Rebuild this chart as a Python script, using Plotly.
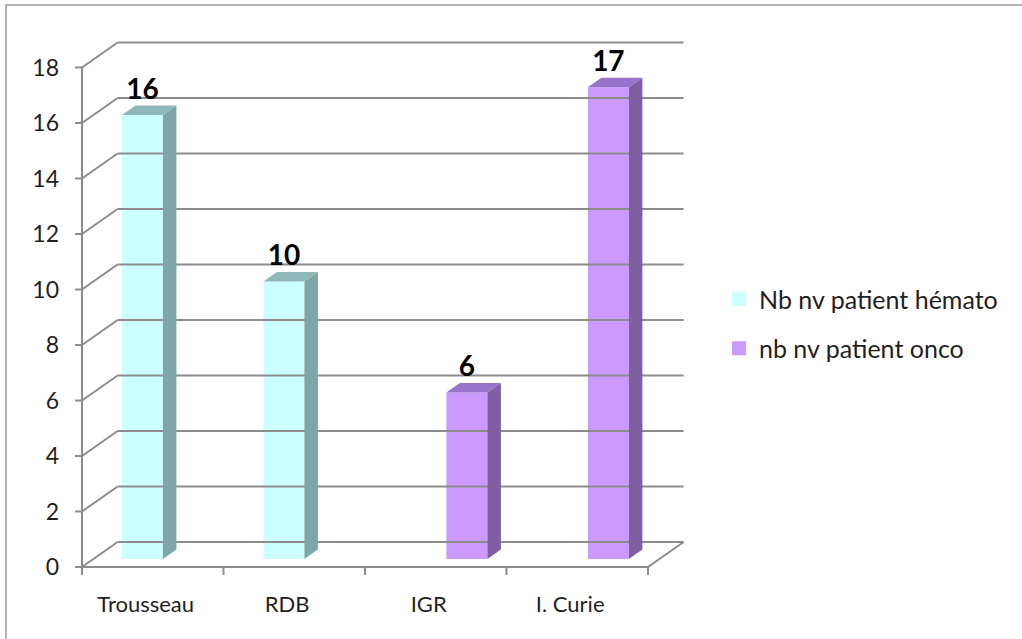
import plotly.graph_objects as go

# ---------------- data ----------------
categories = ["Trousseau", "RDB", "IGR", "I. Curie"]
hemato = [16, 10, None, None]
onco = [None, None, 6, 17]
series_names = ["Nb nv patient hémato", "nb nv patient onco"]
y_ticks = [0, 2, 4, 6, 8, 10, 12, 14, 16, 18]

# ---------------- geometry (pixels -> data units) ----------------
W, H = 1022, 639
FRONT_L, FRONT_R, FRONT_B, FRONT_T18 = 82, 648, 567, 67.5
PLOT_R, PLOT_T = 700, 30
PAD = 12
n = len(categories)
ux = (FRONT_R - FRONT_L) / n
uy = (FRONT_B - FRONT_T18) / 18.0
X0, Y0 = -PAD / ux, -PAD / uy
XMAX = (PLOT_R - FRONT_L) / ux
YMAX = (FRONT_B - PLOT_T) / uy
ML, MB = FRONT_L - PAD, H - (FRONT_B + PAD)
PW, PH = PLOT_R - ML, (FRONT_B + PAD) - PLOT_T

WALL_DX, WALL_DY = 35.6 / ux, 25.0 / uy
BAR_W = 41.0 / ux
BAR_BASE = 8.0 / uy
DEPTH_DX, DEPTH_DY = 13.5 / ux, 9.5 / uy
OFFSETS = [0.427, 0.72]
TICK_X, TICK_Y = 7.0 / ux, 8.0 / uy

FRONT_COL = ["#CCFFFF", "#CC99FF"]
SIDE_COL = ["#7FA6A6", "#7F5FA1"]
TOP_COL = ["#8FB8B8", "#9873C9"]
GRID = "#8C8C8C"
TXT = "#1F1F1F"
FONT = "Lato"

def px_x(p):
    return (p - ML) / PW

def px_y(p):
    return (FRONT_B + PAD - p) / PH

fig = go.Figure()

# frame: back wall gridlines, left wall diagonals, floor, front axis, ticks
fx, fy = [], []
def seg(a, b):
    fx.extend([a[0], b[0], None]); fy.extend([a[1], b[1], None])
for v in y_ticks:
    seg((WALL_DX, v + WALL_DY), (n + WALL_DX, v + WALL_DY))
    seg((0, v), (WALL_DX, v + WALL_DY))
    seg((-TICK_X, v), (0, v))
seg((0, 0), (0, y_ticks[-1]))
seg((0, 0), (n, 0))
seg((n, 0), (n + WALL_DX, WALL_DY))
for i in range(n + 1):
    seg((i, 0), (i, -TICK_Y))
fig.add_trace(go.Scatter(x=fx, y=fy, mode="lines", line=dict(color=GRID, width=2),
                         hoverinfo="skip", showlegend=False))

series = [hemato, onco]
for s, vals in enumerate(series):
    xs = [i + OFFSETS[s] for i in range(n)]
    fig.add_trace(go.Bar(x=xs, y=vals, base=BAR_BASE, width=BAR_W, name=series_names[s],
                         marker=dict(color=FRONT_COL[s], line=dict(width=0)),
                         legendgroup=str(s), showlegend=False))
    sx, sy, tx, ty, lx, ly, lt = [], [], [], [], [], [], []
    for xc, v in zip(xs, vals):
        if v is None:
            continue
        xl, xr = xc - BAR_W / 2, xc + BAR_W / 2
        b0, b1 = BAR_BASE, BAR_BASE + v
        sx += [xr, xr + DEPTH_DX, xr + DEPTH_DX, xr, xr, None]
        sy += [b0, b0 + DEPTH_DY, b1 + DEPTH_DY, b1, b0, None]
        tx += [xl, xl + DEPTH_DX, xr + DEPTH_DX, xr, xl, None]
        ty += [b1, b1 + DEPTH_DY, b1 + DEPTH_DY, b1, b1, None]
        lx.append(xc); ly.append(b1 + DEPTH_DY); lt.append(str(v))
    fig.add_trace(go.Scatter(x=sx, y=sy, mode="lines", fill="toself", fillcolor=SIDE_COL[s],
                             line=dict(width=0, color=SIDE_COL[s]), hoverinfo="skip", showlegend=False))
    fig.add_trace(go.Scatter(x=tx, y=ty, mode="lines", fill="toself", fillcolor=TOP_COL[s],
                             line=dict(width=0, color=TOP_COL[s]), hoverinfo="skip", showlegend=False))
    fig.add_trace(go.Scatter(x=lx, y=ly, mode="text", text=lt, textposition="top center",
                             textfont=dict(family=FONT, size=28, color="#000000", weight="bold"),
                             hoverinfo="skip", showlegend=False, cliponaxis=False))
    # legend entry (square swatch like the original)
    fig.add_trace(go.Scatter(x=[None], y=[None], mode="markers", name=series_names[s],
                             marker=dict(symbol="square", size=14, color=FRONT_COL[s]),
                             legendgroup=str(s), showlegend=True))

fig.update_layout(
    width=W, height=H,
    margin=dict(l=ML, r=W - PLOT_R, t=PLOT_T, b=MB, autoexpand=False),
    paper_bgcolor="white", plot_bgcolor="white",
    font=dict(family=FONT, color=TXT),
    barmode="overlay",
    showlegend=True,
    legend=dict(x=px_x(719), y=px_y(276), xanchor="left", yanchor="top",
                font=dict(family=FONT, size=25, color=TXT), itemsizing="trace",
                tracegroupgap=14, bgcolor="rgba(0,0,0,0)"),
    xaxis=dict(range=[X0, XMAX], showgrid=False, zeroline=False, showline=False,
               tickvals=[i + 0.45 for i in range(n)], ticktext=categories, ticks="",
               tickfont=dict(family=FONT, size=22, color=TXT), ticklabelstandoff=10),
    yaxis=dict(range=[Y0, YMAX], showgrid=False, zeroline=False, showline=False,
               tickvals=y_ticks, ticktext=[str(v) for v in y_ticks], ticks="",
               tickfont=dict(family=FONT, size=23, color=TXT), ticklabelstandoff=10),
    shapes=[dict(type="rect", xref="paper", yref="paper",
                 x0=px_x(6), x1=px_x(1030), y0=px_y(645), y1=px_y(5),
                 line=dict(color="#9A9A9A", width=1.5), layer="below")],
)

fig.write_html("out.html", config={"displayModeBar": False},
               post_script="document.body.style.margin='0';document.body.style.overflow='hidden';")
